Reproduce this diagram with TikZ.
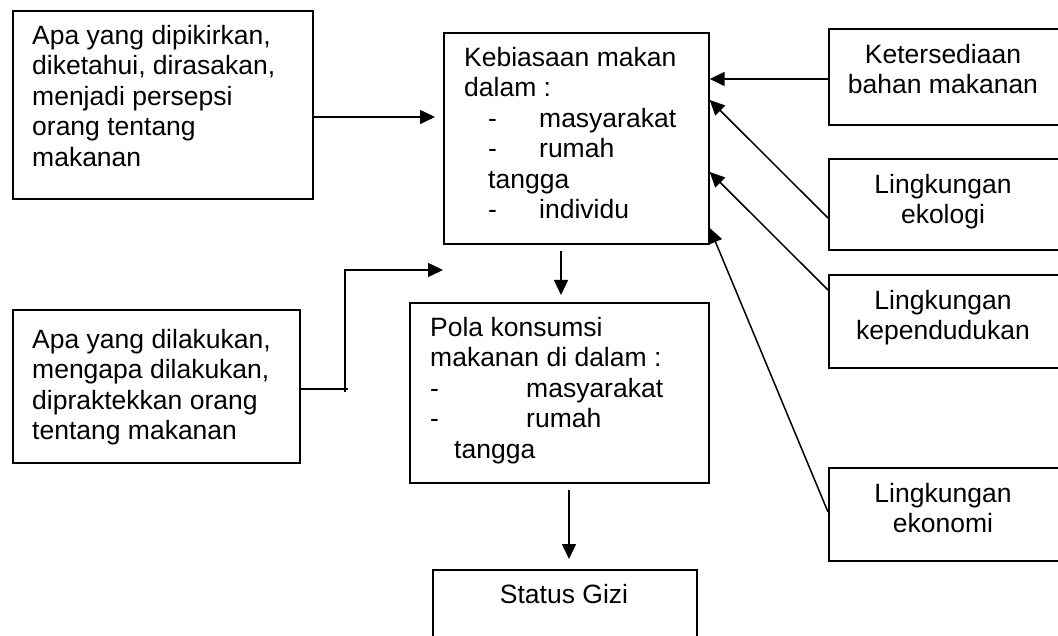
\documentclass[tikz,border=0pt]{standalone}
\usepackage{fontspec}
\setmainfont{Liberation Sans}
\usetikzlibrary{arrows.meta,calc}
\begin{document}
\begin{tikzpicture}[x=1pt,y=-1pt,
  box/.style={draw,line width=1.7pt,rectangle,inner sep=0pt,anchor=north west},
  txt/.style={inner sep=0pt,anchor=north west,align=left,font=\fontsize{26.5}{30.5}\selectfont},
  ctxt/.style={inner sep=0pt,anchor=north,align=center,font=\fontsize{26.5}{30.5}\selectfont},
  arr/.style={line width=1.5pt,-{Triangle[length=15pt,width=14pt]}},
  ln/.style={line width=1.5pt}]
\useasboundingbox (0,0) rectangle (1058,636);
% boxes
\node[box,minimum width=300pt,minimum height=188pt] (tl) at (12,10) {};
\node[box,minimum width=265pt,minimum height=211pt] (keb) at (443,32) {};
\node[box,minimum width=234pt,minimum height=96pt] (ket) at (828,28) {};
\node[box,minimum width=234pt,minimum height=91pt] (eko) at (828,158) {};
\node[box,minimum width=234pt,minimum height=93pt] (kep) at (828,274) {};
\node[box,minimum width=234pt,minimum height=93pt] (ekn) at (828,467) {};
\node[box,minimum width=299pt,minimum height=180pt] (pola) at (409,302) {};
\node[box,minimum width=287pt,minimum height=153pt] (bl) at (12,309) {};
\node[box,minimum width=264pt,minimum height=90pt] (st) at (432,569) {};
% texts
\node[txt] (tlt) at (32,25) {Apa yang dipikirkan,\\diketahui, dirasakan,\\menjadi persepsi\\orang tentang\\makanan};
\node[txt] (kebt) at (464,47) {Kebiasaan makan\\dalam :\\\hspace*{24pt}\makebox[51pt][l]{-}masyarakat\\\hspace*{24pt}\makebox[51pt][l]{-}rumah\\\hspace*{24pt}tangga\\\hspace*{24pt}\makebox[51pt][l]{-}individu};
\node[ctxt] (kett) at (943,44) {Ketersediaan\\bahan makanan};
\node[ctxt] (ekot) at (943,174) {Lingkungan\\ekologi};
\node[ctxt] (kept) at (943,290) {Lingkungan\\kependudukan};
\node[ctxt] (eknt) at (943,483) {Lingkungan\\ekonomi};
\node[txt] (polat) at (430,317) {Pola konsumsi\\makanan di dalam :\\\makebox[96pt][l]{-}masyarakat\\\makebox[96pt][l]{-}rumah\\\hspace*{24pt}tangga};
\node[txt] (blt) at (32,329) {Apa yang dilakukan,\\mengapa dilakukan,\\dipraktekkan orang\\tentang makanan};
\node[ctxt] (stt) at (564,584) {Status Gizi};
% connectors
\draw[arr] (tl.east |- 0,117) -- ([xshift=-8pt]keb.west |- 0,117);
\draw[arr] (ket.west |- 0,79) -- (keb.east |- 0,79);
\draw[arr] (eko.west |- 0,218) -- (keb.east |- 0,100);
\draw[arr] (kep.west |- 0,290) -- (keb.east |- 0,172);
\draw[arr] (ekn.west |- 0,512) -- (keb.east |- 0,228);
\draw[arr,shorten <=6pt,shorten >=7pt] (keb.south -| 561,0) -- (pola.north -| 561,0);
\draw[arr,shorten <=6pt,shorten >=10pt] (pola.south -| 569,0) -- (st.north -| 569,0);
\coordinate (j1) at (345,392);
\coordinate (t1) at (443,270);
\draw[ln] (bl.east |- 0,389) -- (348,389);
\draw[arr] (j1) |- (t1);
\end{tikzpicture}
\end{document}
